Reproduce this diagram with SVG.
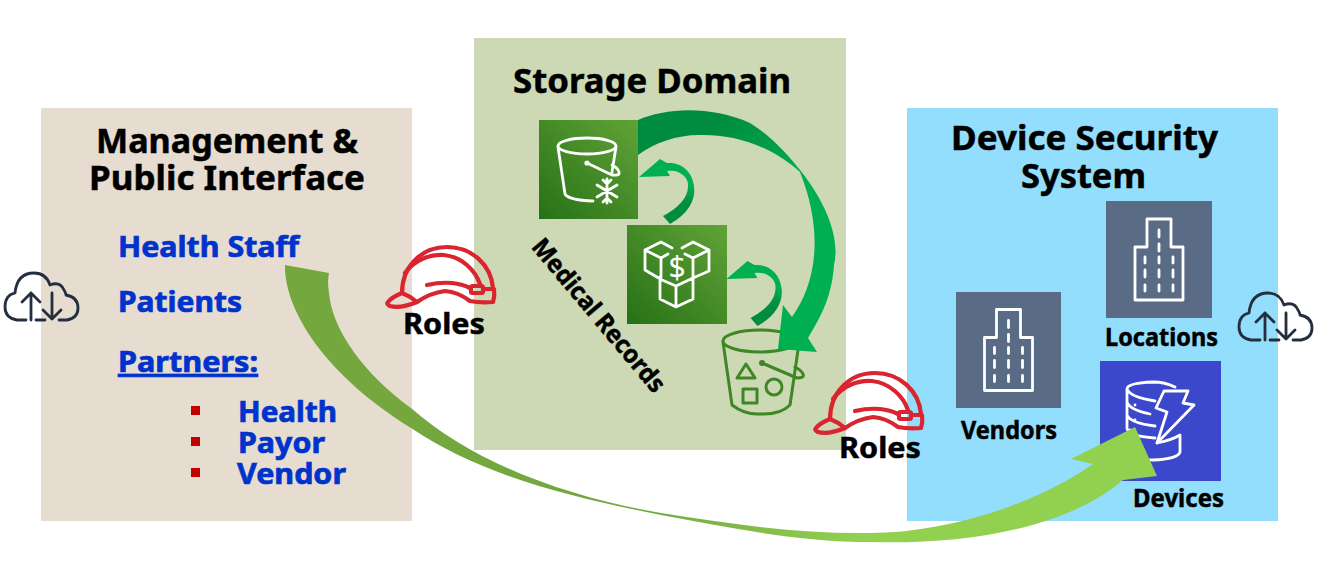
<svg xmlns="http://www.w3.org/2000/svg" width="1344" height="588" viewBox="0 0 1344 588">
<style>
text{font-family:"Noto Sans","Open Sans","Liberation Sans",sans-serif;font-weight:700;fill:#000;stroke:#000;stroke-width:.5}
.t{font-size:34px}.b{font-size:29px;fill:#0033CC;stroke:#0033CC;stroke-width:.7}.s{font-size:25px}.r{font-size:29px}
.w{fill:none;stroke:#fff;stroke-width:2.8;stroke-linecap:round;stroke-linejoin:round}
.hat{fill:none;stroke:#DA2430;stroke-width:4.2;stroke-linecap:round;stroke-linejoin:round}
.cl{fill:none;stroke:#232F3E;stroke-width:2.8;stroke-linecap:round;stroke-linejoin:round}
.gb{fill:none;stroke:#3F8624;stroke-width:3;stroke-linecap:round;stroke-linejoin:round}
.bul{fill:#C00000}
</style>
<defs>
<linearGradient id="g1" x1="0" y1="1" x2="1" y2="0"><stop offset="0" stop-color="#277116"/><stop offset="1" stop-color="#60A337"/></linearGradient>
<linearGradient id="ga" gradientUnits="userSpaceOnUse" x1="640" y1="0" x2="860" y2="0"><stop offset="0" stop-color="#74A83F"/><stop offset="1" stop-color="#92D050"/></linearGradient>
<linearGradient id="gt" gradientUnits="userSpaceOnUse" x1="720" y1="120" x2="810" y2="190"><stop offset="0" stop-color="#008C40"/><stop offset="1" stop-color="#00B050"/></linearGradient>
<linearGradient id="gs" x1="0.5" y1="0" x2="0.5" y2="1"><stop offset="0.4" stop-color="#00B050"/><stop offset="0.7" stop-color="#008C40"/></linearGradient>
<path id="small" d="M663 216L670 224C688 214 696 200 694 186C692 170 680 162 667 163L660 159L639 177L670 176L667 171C680 169 689 178 688 186C688 198 678 208 663 216Z"/>
<g id="hat">
<path d="M388 302Q392 297 402 293Q410 296 417 302Q400 309 390 306Q386 304 388 302Z"/>
<path d="M402 293C402 268 420 247 447 247C472 247 491 265 493 288"/>
<path d="M405 273C414 260 430 254 444 255C462 257 475 270 480 284"/>
<path d="M427 285Q440 282 452 283Q462 284 470 288"/>
<rect x="471" y="286" width="12" height="7" rx="1.5"/>
<path d="M417 302Q430 293 445 291Q458 292 470 301Q480 303 493 302Q495 296 494 289L483 289"/>
</g>
<g id="cloud">
<path d="M17 320Q5 318 5 307Q5 295 15 293Q17 273 34 273Q46 273 50 285Q60 281 64 290Q66 293 66 295Q78 297 78 308Q78 318 67 320L59 320M17 320L26 320M36 320L45 320"/>
<path d="M31 320V293M22 302L31 293L40 302M52 293V319M43 310L52 319L61 310"/>
</g>
<g id="bldg">
<path class="w" d="M1135 300V247H1147V219H1171V247H1183V300Z"/>
<path class="w" d="M1159 230V237M1159 244V251M1159 257V263M1159 270V277M1159 285V291M1145 257V263M1145 270V277M1145 285V291M1173 257V263M1173 270V277M1173 285V291"/>
</g>
</defs>

<g id="management-box">
<rect x="41" y="108" width="371" height="413" fill="#E6DCD0"/>
<text class="t" x="96" y="153" textLength="262" lengthAdjust="spacingAndGlyphs">Management &amp;</text>
<text class="t" x="89" y="190" textLength="276" lengthAdjust="spacingAndGlyphs">Public Interface</text>
<text class="b" x="118" y="257" textLength="181" lengthAdjust="spacingAndGlyphs">Health Staff</text>
<text class="b" x="118" y="312" textLength="124" lengthAdjust="spacingAndGlyphs">Patients</text>
<text class="b" x="118" y="372" textLength="140" lengthAdjust="spacingAndGlyphs" text-decoration="underline">Partners:</text>
<rect class="bul" x="191" y="406" width="9" height="9"/><rect class="bul" x="191" y="437" width="9" height="9"/><rect class="bul" x="191" y="468" width="9" height="9"/>
<text class="b" x="238" y="422" textLength="99" lengthAdjust="spacingAndGlyphs">Health</text>
<text class="b" x="238" y="453" textLength="87" lengthAdjust="spacingAndGlyphs">Payor</text>
<text class="b" x="237" y="484" textLength="109" lengthAdjust="spacingAndGlyphs">Vendor</text>
</g>
<g id="storage-box">
<rect x="474" y="38" width="372" height="412" fill="#CCD9B4"/>
<text class="t" x="513" y="93" textLength="278" lengthAdjust="spacingAndGlyphs">Storage Domain</text>
</g>
<g id="device-box">
<rect x="907" y="108" width="371" height="413" fill="#93DEFC"/>
<text class="t" x="951" y="150" textLength="267" lengthAdjust="spacingAndGlyphs">Device Security</text>
<text class="t" x="1021" y="188" textLength="125" lengthAdjust="spacingAndGlyphs">System</text>
</g>
<g id="glacier">
<rect x="539" y="120" width="99" height="99" fill="url(#g1)"/>
<ellipse class="w" cx="587" cy="146" rx="29" ry="8"/>
<path class="w" d="M558 147L565 194Q568 200 593 201M616 147L612 172M587 163L612 175Q620 176 619 172Q618 168 612 165"/>
<circle cx="587" cy="163" r="2.6" fill="#fff"/>
<path class="w" d="M607 179V203M597 185L617 197M617 185L597 197M603 180L607 184L611 180M603 202L607 198L611 202"/>
</g>
<g id="cubes">
<rect x="627" y="225" width="100" height="99" fill="url(#g1)"/>
<path class="w" d="M672 248L661 242L645 250V270L662 280L676 286L693 278L709 271V250L693 242L682 248M645 250L661 258V277M709 250L693 258V278M661 258L668 254M693 258L685 254M660 277V299L676 307L693 299V278M676 286V307"/>
<text x="677" y="278" text-anchor="middle" style="font-size:30px;font-weight:400;fill:#fff;stroke:none">$</text>
</g>
<g id="bucket">
<ellipse class="gb" cx="760" cy="341" rx="37" ry="11"/>
<path class="gb" d="M723 342L732 405Q745 415 760 414Q780 415 790 405L798 350M762 363L797 378Q805 378 803 374Q801 370 795 367M746 364L737 378H755ZM743 389H757V403H743Z"/>
<circle class="gb" cx="774" cy="387" r="8"/>
<circle cx="762" cy="363" r="3" fill="#3F8624"/>
</g>
<g id="locations">
<rect x="1106" y="201" width="106" height="117" fill="#5A6B86"/>
<use href="#bldg"/>
<text class="s" x="1105" y="346" textLength="113" lengthAdjust="spacingAndGlyphs">Locations</text>
</g>
<g id="vendors">
<rect x="956" y="292" width="105" height="116" fill="#5A6B86"/>
<use href="#bldg" x="-150.5" y="90.5"/>
<text class="s" x="961" y="439" textLength="96" lengthAdjust="spacingAndGlyphs">Vendors</text>
</g>
<g id="devices">
<rect x="1100" y="361" width="121" height="120" fill="#3B48CC"/>
<path class="w" d="M1175 387Q1165 382 1153 382Q1127 383 1127 389V428Q1127 436 1155 438M1127 389Q1130 397 1155 401M1127 402Q1130 410 1150 414M1127 415Q1130 423 1155 426M1157 443Q1172 440 1180 435V452Q1178 459 1153 460Q1140 460 1130 456V430"/>
<path class="w" d="M1164 391H1188L1183 403L1194 405L1157 443L1167 412L1156 408Z"/>
<circle cx="1135" cy="405" r="1.4" fill="#fff"/><circle cx="1135" cy="420" r="1.4" fill="#fff"/>
<text class="s" x="1133" y="507" textLength="91" lengthAdjust="spacingAndGlyphs">Devices</text>
</g>
<g id="connectors">
<path fill="url(#gt)" d="M638 120C665 108 710 105 750 123C770 135 788 155 800 170C828 205 840 240 834 265C832 295 822 315 808 338L817 352L778 349L783 305L792 317C815 285 825 235 800 172C770 145 735 135 703 135C680 134 655 142 638 155Z"/>
<use href="#small" fill="url(#gs)"/>
<use href="#small" fill="url(#gs)" x="87.5" y="102"/>
<path fill="url(#ga)" d="M285 265L329 273C327 285 329 290 329 293C332 330 365 375 411 408C470 460 560 496 661 513C730 524 800 534 870 533C940 533 1030 508 1093 464L1071 459L1135 427L1157 476L1123 480C1065 530 960 545 870 542C800 542 730 528 661 515C570 497 480 475 411 428C325 375 284 310 285 265Z"/>
</g>
<g id="medical-records">
<text class="s" transform="translate(599,315) rotate(50)" y="9" text-anchor="middle" textLength="192" lengthAdjust="spacingAndGlyphs">Medical Records</text>
</g>
<g id="roles-left">
<use href="#hat" class="hat"/>
<text class="r" x="403" y="334" textLength="82" lengthAdjust="spacingAndGlyphs">Roles</text>
</g>
<g id="roles-right">
<use href="#hat" class="hat" x="428" y="126"/>
<text class="r" x="839" y="458" textLength="82" lengthAdjust="spacingAndGlyphs">Roles</text>
</g>
<g id="cloud-left"><use href="#cloud" class="cl"/></g>
<g id="cloud-right"><use href="#cloud" class="cl" x="1234" y="20"/></g>
</svg>
